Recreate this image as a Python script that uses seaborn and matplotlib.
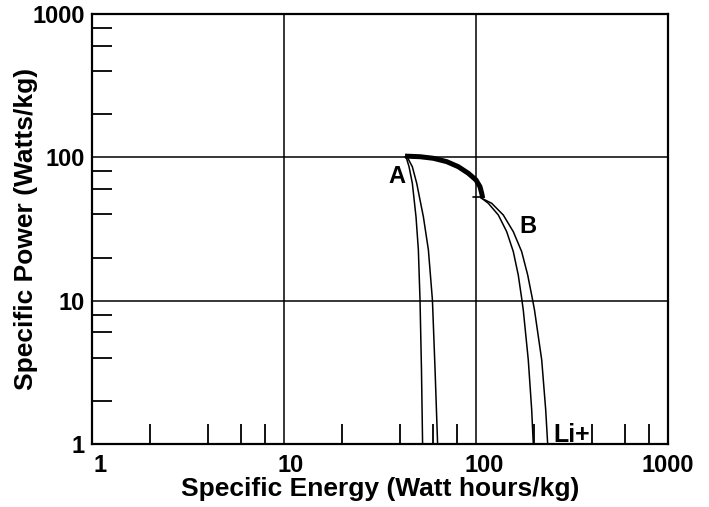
import matplotlib
matplotlib.use("Agg")
import matplotlib.pyplot as plt
import matplotlib.ticker as mticker
import matplotlib.transforms as mtransforms
import seaborn as sns
import pandas as pd

# ---- data (Specific Energy Wh/kg, Specific Power W/kg) ----
a_inner_E = [42.7, 43.3, 44.8, 46.6, 48.7, 50.1, 51.1, 52.0, 52.7]
a_inner_P = [101, 100, 86, 66, 38.5, 22.6, 10.1, 3.3, 1.0]
a_outer_E = [42.7, 43.9, 46.6, 49.1, 53.2, 56.5, 59.3, 61.2, 63.1]
a_outer_P = [101, 100, 86, 66, 38.5, 22.6, 10.1, 3.3, 1.0]

thick_E = [42.7, 51.1, 59.9, 70.4, 80.9, 91.2, 100.0, 104.9, 107.1, 108.4]
thick_P = [102, 101, 98.5, 93.3, 86.0, 77.4, 69.5, 62.4, 56.1, 51.8]

b_inner_E = [107.1, 115.9, 130.7, 144.5, 156.4, 166.0, 172.9, 176.3, 187.2, 195.0, 198.8]
b_inner_P = [51.8, 47.8, 39.6, 30.3, 22.0, 15.1, 10.4, 8.6, 3.86, 1.73, 1.0]
b_outer_E = [107.1, 120.7, 138.7, 156.4, 172.9, 185.9, 196.4, 201.7, 219.9, 230.7, 236.2]
b_outer_P = [51.8, 47.8, 39.6, 30.3, 22.0, 15.1, 10.4, 8.6, 3.86, 1.73, 1.0]

b_mark_E = [96.8, 109.1]
b_mark_P = [52.6, 52.6]

tick_values = [1, 10, 100, 1000]
tick_labels = ["1", "10", "100", "1000"]
x_label = "Specific Energy (Watt hours/kg)"
y_label = "Specific Power (Watts/kg)"

sns.set_style("white")
plt.rcParams['font.family'] = ['Liberation Sans', 'DejaVu Sans']
plt.rcParams['font.weight'] = 'bold'
plt.rcParams['text.color'] = 'black'
plt.rcParams['axes.labelcolor'] = 'black'
plt.rcParams['xtick.color'] = 'black'
plt.rcParams['ytick.color'] = 'black'

fig = plt.figure(figsize=(7.09, 5.07), dpi=100)
ax = fig.add_axes([92/709, 1-444/507, (668-92)/709, (444-14)/507])

thin = dict(color="black", linewidth=1.1, sort=False, estimator=None, ax=ax, legend=False)
for E, P in [(a_inner_E, a_inner_P), (a_outer_E, a_outer_P),
             (b_inner_E, b_inner_P), (b_outer_E, b_outer_P)]:
    sns.lineplot(data=pd.DataFrame({"E": E, "P": P}), x="E", y="P", **thin)
sns.lineplot(data=pd.DataFrame({"E": thick_E, "P": thick_P}), x="E", y="P",
             color="black", linewidth=3.6, sort=False, estimator=None, ax=ax,
             legend=False, solid_capstyle="butt", solid_joinstyle="round")
sns.lineplot(data=pd.DataFrame({"E": b_mark_E, "P": b_mark_P}), x="E", y="P",
             color="black", linewidth=1.2, sort=False, estimator=None, ax=ax, legend=False)

ax.set_xscale("log")
ax.set_yscale("log")
ax.set_xlim(1, 1000)
ax.set_ylim(1, 1000)

ax.set_xticks(tick_values)
ax.set_xticklabels(tick_labels)
ax.set_yticks(tick_values)
ax.set_yticklabels(tick_labels)
ax.xaxis.set_minor_locator(mticker.LogLocator(base=10, subs=[2, 4, 6, 8]))
ax.yaxis.set_minor_locator(mticker.LogLocator(base=10, subs=[2, 4, 6, 8]))
ax.xaxis.set_minor_formatter(mticker.NullFormatter())
ax.yaxis.set_minor_formatter(mticker.NullFormatter())

ax.tick_params(which="major", length=0, labelsize=17, colors="black")
ax.tick_params(axis="x", which="major", pad=7)
ax.tick_params(axis="y", which="major", pad=5)
ax.tick_params(which="minor", direction="in", length=14.5, width=1.3,
               color="black", bottom=True, left=True, top=False, right=False)
for lab in ax.get_xticklabels() + ax.get_yticklabels():
    lab.set_fontweight("bold")

# small horizontal nudges of the x tick labels, as in the reference
x_label_shift_px = [8, 7, 8, 0]
for lab, dx in zip(ax.get_xticklabels(), x_label_shift_px):
    lab.set_transform(lab.get_transform() +
                      mtransforms.ScaledTranslation(dx / 100, 0, fig.dpi_scale_trans))

ax.grid(True, which="major", color="black", linewidth=1.1)
ax.grid(False, which="minor")
for s in ax.spines.values():
    s.set_color("black")
    s.set_linewidth(1.6)

ax.set_xlabel(x_label, fontsize=19, fontweight="bold", color="black")
ax.set_ylabel(y_label, fontsize=19, fontweight="bold", color="black")
ax.xaxis.set_label_coords(0.5, -(477 - 444) / 430)
ax.yaxis.set_label_coords(-(92 - 38) / 576, 0.5)

ax.text(38.6, 73.3, "A", fontsize=17, fontweight="bold", ha="center", va="center")
ax.text(187, 32.8, "B", fontsize=17, fontweight="bold", ha="center", va="center")
ax.text(252, 1.03, "Li+", fontsize=18, fontweight="bold", ha="left", va="baseline")

fig.savefig("out.png", dpi=100)
